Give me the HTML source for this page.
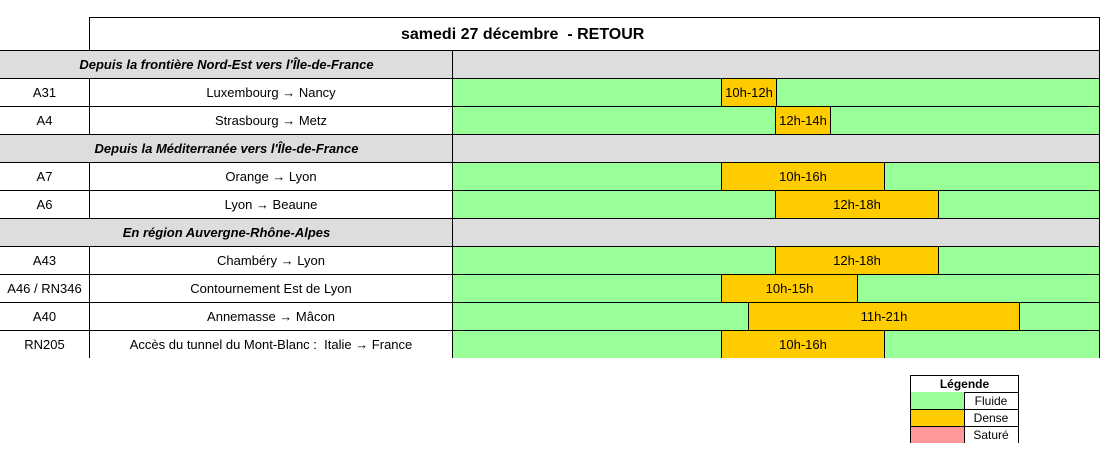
<!DOCTYPE html>
<html><head><meta charset="utf-8"><style>
body{margin:0;width:1106px;height:466px;background:#fff;position:relative;overflow:hidden;font-family:"Liberation Sans",Arial,sans-serif;font-size:13px;color:#000}
div{position:absolute;box-sizing:border-box}
.c{display:flex;align-items:center;justify-content:center;white-space:nowrap}
.hl{height:1px;background:#000}
.vl{width:1px;background:#000}
.lg{font-size:12px}
</style></head><body>
<div style="left:89px;top:17px;width:1011px;height:34px;border:1px solid #000"></div>
<div style="left:401px;top:26px;font-weight:bold;font-size:16px;white-space:nowrap">samedi 27 décembre&nbsp; - RETOUR</div>

<div class="c" style="left:0;top:50px;width:453px;height:29px;background:#ddd;font-style:italic;font-weight:bold">Depuis la frontière Nord-Est vers l'Île-de-France</div>
<div style="left:453px;top:50px;width:647px;height:29px;background:#ddd"></div>
<div class="c" style="left:0;top:134px;width:453px;height:29px;background:#ddd;font-style:italic;font-weight:bold">Depuis la Méditerranée vers l'Île-de-France</div>
<div style="left:453px;top:134px;width:647px;height:29px;background:#ddd"></div>
<div class="c" style="left:0;top:218px;width:453px;height:29px;background:#ddd;font-style:italic;font-weight:bold">En région Auvergne-Rhône-Alpes</div>
<div style="left:453px;top:218px;width:647px;height:29px;background:#ddd"></div>

<div class="c" style="left:0;top:78px;width:89px;height:28px">A31</div><div class="c" style="left:89px;top:78px;width:364px;height:28px">Luxembourg → Nancy</div>
<div class="c" style="left:0;top:106px;width:89px;height:28px">A4</div><div class="c" style="left:89px;top:106px;width:364px;height:28px">Strasbourg → Metz</div>
<div class="c" style="left:0;top:162px;width:89px;height:28px">A7</div><div class="c" style="left:89px;top:162px;width:364px;height:28px">Orange → Lyon</div>
<div class="c" style="left:0;top:190px;width:89px;height:28px">A6</div><div class="c" style="left:89px;top:190px;width:364px;height:28px">Lyon → Beaune</div>
<div class="c" style="left:0;top:246px;width:89px;height:28px">A43</div><div class="c" style="left:89px;top:246px;width:364px;height:28px">Chambéry → Lyon</div>
<div class="c" style="left:0;top:274px;width:89px;height:28px">A46 / RN346</div><div class="c" style="left:89px;top:274px;width:364px;height:28px">Contournement Est de Lyon</div>
<div class="c" style="left:0;top:302px;width:89px;height:28px">A40</div><div class="c" style="left:89px;top:302px;width:364px;height:28px">Annemasse → Mâcon</div>
<div class="c" style="left:0;top:330px;width:89px;height:28px">RN205</div><div class="c" style="left:89px;top:330px;width:364px;height:28px">Accès du tunnel du Mont-Blanc :&nbsp; Italie → France</div>

<div style="left:453px;top:78px;width:647px;height:56px;background:#99ff99"></div>
<div style="left:453px;top:162px;width:647px;height:56px;background:#99ff99"></div>
<div style="left:453px;top:246px;width:647px;height:112px;background:#99ff99"></div>

<div class="c" style="left:721px;top:78px;width:56px;height:28px;background:#ffcc00;border-left:1px solid #000;border-right:1px solid #000">10h-12h</div>
<div class="c" style="left:775px;top:106px;width:56px;height:28px;background:#ffcc00;border-left:1px solid #000;border-right:1px solid #000">12h-14h</div>
<div class="c" style="left:721px;top:162px;width:164px;height:28px;background:#ffcc00;border-left:1px solid #000;border-right:1px solid #000">10h-16h</div>
<div class="c" style="left:775px;top:190px;width:164px;height:28px;background:#ffcc00;border-left:1px solid #000;border-right:1px solid #000">12h-18h</div>
<div class="c" style="left:775px;top:246px;width:164px;height:28px;background:#ffcc00;border-left:1px solid #000;border-right:1px solid #000">12h-18h</div>
<div class="c" style="left:721px;top:274px;width:137px;height:28px;background:#ffcc00;border-left:1px solid #000;border-right:1px solid #000">10h-15h</div>
<div class="c" style="left:748px;top:302px;width:272px;height:28px;background:#ffcc00;border-left:1px solid #000;border-right:1px solid #000">11h-21h</div>
<div class="c" style="left:721px;top:330px;width:164px;height:28px;background:#ffcc00;border-left:1px solid #000;border-right:1px solid #000">10h-16h</div>

<div class="hl" style="left:0;top:50px;width:1100px"></div>
<div class="hl" style="left:0;top:78px;width:1100px"></div>
<div class="hl" style="left:0;top:106px;width:1100px"></div>
<div class="hl" style="left:0;top:134px;width:1100px"></div>
<div class="hl" style="left:0;top:162px;width:1100px"></div>
<div class="hl" style="left:0;top:190px;width:1100px"></div>
<div class="hl" style="left:0;top:218px;width:1100px"></div>
<div class="hl" style="left:0;top:246px;width:1100px"></div>
<div class="hl" style="left:0;top:274px;width:1100px"></div>
<div class="hl" style="left:0;top:302px;width:1100px"></div>
<div class="hl" style="left:0;top:330px;width:1100px"></div>
<div class="vl" style="left:89px;top:78px;height:56px"></div>
<div class="vl" style="left:89px;top:162px;height:56px"></div>
<div class="vl" style="left:89px;top:246px;height:112px"></div>
<div class="vl" style="left:452px;top:50px;height:308px"></div>
<div class="vl" style="left:1099px;top:50px;height:308px"></div>

<div class="c lg" style="left:910px;top:375px;width:109px;height:18px;border:1px solid #000;font-weight:bold">Légende</div>
<div style="left:910px;top:392px;width:55px;height:17px;background:#99ff99;border-left:1px solid #000;border-right:1px solid #000"></div>
<div class="c lg" style="left:964px;top:392px;width:55px;height:17px;border-right:1px solid #000">Fluide</div>
<div style="left:910px;top:409px;width:55px;height:17px;background:#ffcc00;border:1px solid #000;border-bottom:0"></div>
<div class="c lg" style="left:964px;top:409px;width:55px;height:17px;border-top:1px solid #000;border-right:1px solid #000">Dense</div>
<div style="left:910px;top:426px;width:55px;height:17px;background:#ff9999;border:1px solid #000;border-bottom:0"></div>
<div class="c lg" style="left:964px;top:426px;width:55px;height:17px;border-top:1px solid #000;border-right:1px solid #000">Saturé</div>
</body></html>
